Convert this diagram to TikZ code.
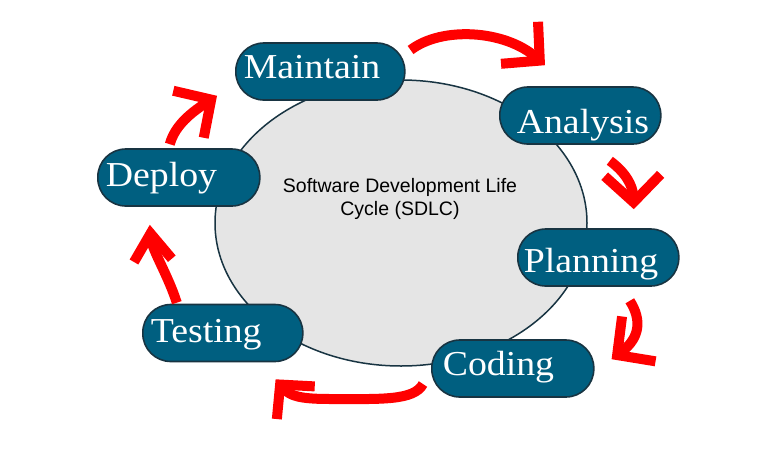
\documentclass[tikz,border=0pt]{standalone}
\usepackage{fontspec}
\newfontfamily\sdlcsans{Liberation Sans}
\newfontfamily\stageserif[FakeStretch=1.08]{Liberation Serif}
\usetikzlibrary{arrows.meta}
\definecolor{stagefill}{RGB}{0,95,128}
\definecolor{stageline}{RGB}{24,52,66}
\definecolor{cyclefill}{RGB}{229,229,229}
\definecolor{flowred}{RGB}{255,0,0}

\begin{document}
\begin{tikzpicture}[x=1pt, y=-1pt,
		stage/.style={draw=stageline, line width=1.6pt, fill=stagefill, text=white, rounded corners=28pt, minimum height=57pt, anchor=west, align=flush left, text depth=0pt, font=\stageserif\fontsize{35}{40}\selectfont},
		flow/.style={draw=flowred, line width=10pt, -{Straight Barb[length=27pt, width=56pt, sharp]}}]
		\useasboundingbox (0,0) rectangle (761,448);
		\draw[stageline, line width=1.5pt, fill=cyclefill] (401,223) ellipse [x radius=186, y radius=143];
		\node[font=\sdlcsans\fontsize{19.5}{23}\selectfont, align=center] (title) at (400,199) {Software Development Life\\Cycle (SDLC)};
		\foreach \n/\x/\y/\w/\p/\h/\t in {maintain/235/71.5/153/8/13/Maintain, analysis/499/115.5/127/17/35/Analysis, planning/517/257.5/149/6/29/Planning, coding/431/368.5/140/11/13/Coding, testing/142/333/144/8/18/Testing, deploy/97/177.5/146/8/17/Deploy} {
			\node[stage, text width=\w pt, inner xsep=\p pt, text height=\h pt] (\n) at (\x,\y) {\t};
		}
		\draw[flow] ([shift={(5,-21.5)}]maintain.east) .. controls (442,26) and (505,30) .. ([shift={(46,-21)}]analysis.north west);
		\draw[flow] ([shift={(29.5,16)}]analysis.south) .. controls (625,172) and (633,185) .. ([shift={(35.5,-19)}]planning.north);
		\draw[flow] ([shift={(31.5,14)}]planning.south) .. controls (642,320) and (640,338) .. ([shift={(17,20)}]coding.north east);
		\draw[flow, -{Straight Barb[length=24pt, width=50pt, sharp]}] ([shift={(-8,15.5)}]coding.west) .. controls (414,401) and (380,399) .. (330,399) .. controls (300,399) and (290,396) .. ([shift={(-28,17)}]testing.south east);
		\draw[flow, -{Straight Barb[length=27pt, width=38pt, sharp]}] ([shift={(-46,-1)}]testing.north) .. controls (168,275) and (152,250) .. ([shift={(-29,18)}]deploy.south);
		\draw[flow] ([shift={(-9,-4)}]deploy.north) .. controls (175,125) and (192,112) .. ([shift={(-18,-5)}]maintain.south west);
	\end{tikzpicture}
\end{document}
